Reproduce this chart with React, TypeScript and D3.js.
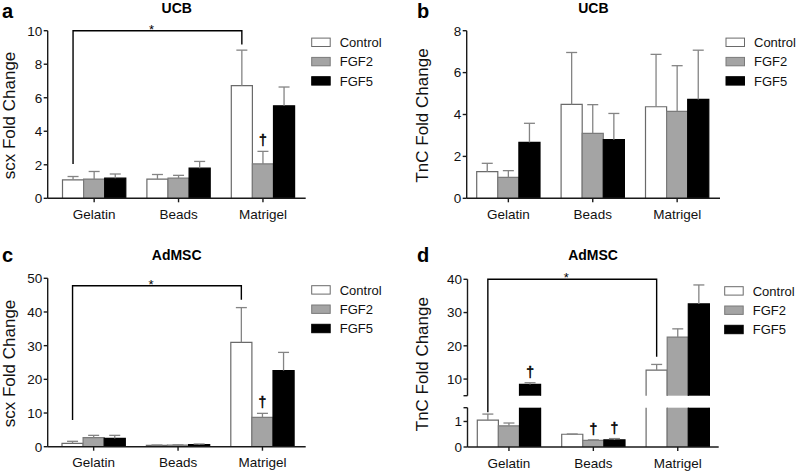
import React from 'react';
import * as d3 from 'd3';

const categories = ['Gelatin', 'Beads', 'Matrigel'];
const groups = ['Control', 'FGF2', 'FGF5'];

// rows = category, columns = group; err = length of the upper error bar
const ucbScxMean = [[1.1, 1.15, 1.2], [1.15, 1.2, 1.8], [6.72, 2.05, 5.52]];
const ucbScxErr = [[0.2, 0.45, 0.25], [0.27, 0.17, 0.4], [2.12, 0.75, 1.12]];

const ucbTncMean = [[1.27, 1.0, 2.67], [4.48, 3.1, 2.8], [4.37, 4.15, 4.72]];
const ucbTncErr = [[0.4, 0.32, 0.91], [2.48, 1.37, 1.25], [2.5, 2.18, 2.35]];

const admScxMean = [[1.0, 2.67, 2.47], [0.4, 0.45, 0.6], [31.0, 8.7, 22.6]];
const admScxErr = [[0.6, 0.7, 0.9], [0.1, 0.1, 0.2], [10.3, 1.2, 5.4]];

const admTncMean = [[1.05, 0.83, 8.4], [0.5, 0.26, 0.28], [12.7, 22.6, 32.6]];
const admTncErr = [[0.24, 0.11, 0.5], [0.01, 0.02, 0.05], [1.7, 2.5, 5.7]];

const ucbScxTicks = [0, 2, 4, 6, 8, 10];
const ucbTncTicks = [0, 2, 4, 6, 8];
const admScxTicks = [0, 10, 20, 30, 40, 50];
const admTncLowTicks = [0, 1];
const admTncHighTicks = [10, 20, 30, 40];

// significance brackets: from / to category (Control bar), leg ends and top in data units
const ucbScxBracket = { from: 'Gelatin', to: 'Matrigel', left: 2.05, right: 9.18, top: 10 };
const admScxBracket = { from: 'Gelatin', to: 'Matrigel', left: 7.9, right: 43.6, top: 47.8 };
const admTncBracket = { from: 'Gelatin', to: 'Matrigel', left: 1.36, right: 16.7, top: 40 };

const ucbScxDaggers = [['Matrigel', 'FGF2']];
const admScxDaggers = [['Matrigel', 'FGF2']];
const admTncDaggers = [['Gelatin', 'FGF5'], ['Beads', 'FGF2'], ['Beads', 'FGF5']];

const fills: Record<string, string> = { Control: '#ffffff', FGF2: '#a4a4a4', FGF5: '#000000' };
const edges: Record<string, string> = { Control: '#6a6a6a', FGF2: '#7a7a7a', FGF5: '#000000' };

const FONT = '"Liberation Sans", Arial, Helvetica, sans-serif';

interface Seg { domain: [number, number]; range: [number, number]; ticks: number[] }
interface PanelCfg {
  letter: string; title: string; yLabel: string;
  mean: number[][]; err: number[][];
  left: number; right: number; bandStart: number;
  segs: Seg[];
  bracket?: { from: string; to: string; left: number; right: number; top: number };
  daggers: string[][];
  letterX: number; letterY: number; titleY: number; yLabelX: number;
}

const panels: PanelCfg[] = [
  {
    letter: 'a', title: 'UCB', yLabel: 'scx Fold Change', mean: ucbScxMean, err: ucbScxErr,
    left: 47.7, right: 305.7, bandStart: 62.5,
    segs: [{ domain: [0, 10], range: [198.3, 30.7], ticks: ucbScxTicks }],
    bracket: ucbScxBracket, daggers: ucbScxDaggers,
    letterX: 2, letterY: 18, titleY: 12.5, yLabelX: 15,
  },
  {
    letter: 'b', title: 'UCB', yLabel: 'TnC Fold Change', mean: ucbTncMean, err: ucbTncErr,
    left: 466.7, right: 720, bandStart: 476.7,
    segs: [{ domain: [0, 8], range: [198.3, 30.7], ticks: ucbTncTicks }],
    daggers: [],
    letterX: 417, letterY: 18, titleY: 12.5, yLabelX: 428,
  },
  {
    letter: 'c', title: 'AdMSC', yLabel: 'scx Fold Change', mean: admScxMean, err: admScxErr,
    left: 47.7, right: 305.7, bandStart: 62,
    segs: [{ domain: [0, 50], range: [446.7, 278.3], ticks: admScxTicks }],
    bracket: admScxBracket, daggers: admScxDaggers,
    letterX: 2, letterY: 262, titleY: 260, yLabelX: 15,
  },
  {
    letter: 'd', title: 'AdMSC', yLabel: 'TnC Fold Change', mean: admTncMean, err: admTncErr,
    left: 467.5, right: 718.7, bandStart: 477.3,
    segs: [
      { domain: [0, 1.54], range: [447, 407.7], ticks: admTncLowTicks },
      { domain: [5, 40], range: [395.7, 279.3], ticks: admTncHighTicks },
    ],
    bracket: admTncBracket, daggers: admTncDaggers,
    letterX: 417, letterY: 262, titleY: 260, yLabelX: 428,
  },
];

const Panel: React.FC<{ p: PanelCfg }> = ({ p }) => {
  const step = 84.4;
  const x = d3.scaleBand<string>().domain(categories)
    .range([p.bandStart, p.bandStart + step * 2.75]).paddingInner(0.25).paddingOuter(0);
  const xi = d3.scaleBand<string>().domain(groups).range([0, x.bandwidth()]);
  const scales = p.segs.map((s) => d3.scaleLinear().domain(s.domain).range(s.range));
  const y = (v: number) => {
    for (let i = 0; i < p.segs.length; i++) {
      if (v <= p.segs[i].domain[1] || i === p.segs.length - 1) {
        return scales[i](Math.max(v, p.segs[i].domain[0]));
      }
    }
    return 0;
  };
  const bottom = p.segs[0].range[0];
  const top = p.segs[p.segs.length - 1].range[1];
  const w = xi.bandwidth();
  const broken = p.segs.length > 1;

  return (
    <g>
      <text x={p.letterX} y={p.letterY} fontSize={20} fontWeight="bold" fill="#000">{p.letter}</text>
      <text x={(p.left + p.right) / 2} y={p.titleY} fontSize={14} fontWeight="bold" textAnchor="middle" fill="#000">{p.title}</text>
      <text transform={`translate(${p.yLabelX},${(top + bottom) / 2 + 1}) rotate(-90)`} fontSize={17} textAnchor="middle" fill="#111">{p.yLabel}</text>

      {/* bars */}
      {categories.map((c, ci) => groups.map((g, gi) => {
        const v = p.mean[ci][gi];
        const bx = (x(c) ?? 0) + (xi(g) ?? 0);
        return p.segs.map((s, si) => {
          if (v <= s.domain[0]) return null;
          const yb = scales[si](s.domain[0]);
          const yt = scales[si](Math.min(v, s.domain[1]));
          const closed = v <= s.domain[1];
          const d = closed
            ? `M${bx},${yb}V${yt}H${bx + w}V${yb}`
            : `M${bx},${yb}V${yt}M${bx + w},${yt}V${yb}`;
          return (
            <g key={`${c}-${g}-${si}`}>
              <rect x={bx} y={yt} width={w} height={yb - yt} fill={fills[g]} />
              <path d={d} fill="none" stroke={edges[g]} strokeWidth={1.2} />
            </g>
          );
        });
      }))}

      {/* error bars */}
      {categories.map((c, ci) => groups.map((g, gi) => {
        const v = p.mean[ci][gi];
        const e = p.err[ci][gi];
        const cx = (x(c) ?? 0) + (xi(g) ?? 0) + w / 2;
        return (
          <g key={`e-${c}-${g}`} stroke="#848484" strokeWidth={1.3}>
            <line x1={cx} x2={cx} y1={y(v)} y2={y(v + e)} />
            <line x1={cx - 5.5} x2={cx + 5.5} y1={y(v + e)} y2={y(v + e)} />
          </g>
        );
      }))}

      {/* y axis */}
      {p.segs.map((s, si) => (
        <g key={`ax-${si}`} stroke="#1a1a1a" strokeWidth={1.4}>
          <line x1={p.left} x2={p.left} y1={s.range[0]} y2={s.range[1]} />
          {s.ticks.map((t) => (
            <line key={t} x1={p.left - 4} x2={p.left} y1={scales[si](t)} y2={scales[si](t)} />
          ))}
          {broken && si > 0 && <line x1={p.left - 4} x2={p.left} y1={s.range[0]} y2={s.range[0]} />}
          {broken && si < p.segs.length - 1 && <line x1={p.left - 4} x2={p.left} y1={s.range[1]} y2={s.range[1]} />}
        </g>
      ))}
      {p.segs.map((s, si) => s.ticks.map((t) => (
        <text key={`tl-${si}-${t}`} x={p.left - 5.5} y={scales[si](t)} dy="0.36em" fontSize={13.5} textAnchor="end" fill="#111">{t}</text>
      )))}

      {/* x axis */}
      <line x1={p.left} x2={p.right} y1={bottom} y2={bottom} stroke="#1a1a1a" strokeWidth={1.4} />
      {categories.map((c) => {
        const cx = (x(c) ?? 0) + x.bandwidth() / 2;
        return (
          <g key={`xt-${c}`}>
            <line x1={cx} x2={cx} y1={bottom} y2={bottom + 4} stroke="#1a1a1a" strokeWidth={1.4} />
            <text x={cx} y={bottom + 20.5} fontSize={13.5} textAnchor="middle" fill="#111">{c}</text>
          </g>
        );
      })}

      {/* significance bracket */}
      {p.bracket && (() => {
        const b = p.bracket;
        const x1 = (x(b.from) ?? 0) + (xi('Control') ?? 0) + w / 2;
        const x2 = (x(b.to) ?? 0) + (xi('Control') ?? 0) + w / 2;
        const yt = y(b.top);
        return (
          <g>
            <path d={`M${x1},${y(b.left)}V${yt}H${x2}V${y(b.right)}`} fill="none" stroke="#000" strokeWidth={1.4} />
            <text x={(x1 + x2) / 2 - 6} y={yt + 3} fontSize={13} textAnchor="middle" fill="#000">*</text>
          </g>
        );
      })()}

      {/* daggers */}
      {p.daggers.map(([c, g]) => {
        const ci = categories.indexOf(c);
        const gi = groups.indexOf(g);
        const cx = (x(c) ?? 0) + (xi(g) ?? 0) + w / 2;
        return (
          <text key={`dg-${c}-${g}`} x={cx} y={y(p.mean[ci][gi] + p.err[ci][gi]) - 6}
            fontSize={14} textAnchor="middle" fill="#000" stroke="#000" strokeWidth={0.5}>†</text>
        );
      })}

      {/* legend */}
      {groups.map((g, i) => {
        const ly = top + 11.6 + i * 19.3;
        return (
          <g key={`lg-${g}`}>
            <rect x={p.right + 6} y={ly - 4.2} width={18.5} height={8.4} fill={fills[g]} stroke={edges[g]} strokeWidth={1} />
            <text x={p.right + 34} y={ly} dy="0.36em" fontSize={13} fill="#111">{g}</text>
          </g>
        );
      })}
    </g>
  );
};

export default function App() {
  return (
    <svg width={796} height={471} viewBox="0 0 796 471"
      style={{ position: 'absolute', left: 0, top: 0, background: '#fff' }} fontFamily={FONT}>
      <rect width={796} height={471} fill="#fff" />
      {panels.map((p) => <Panel key={p.letter} p={p} />)}
    </svg>
  );
}
